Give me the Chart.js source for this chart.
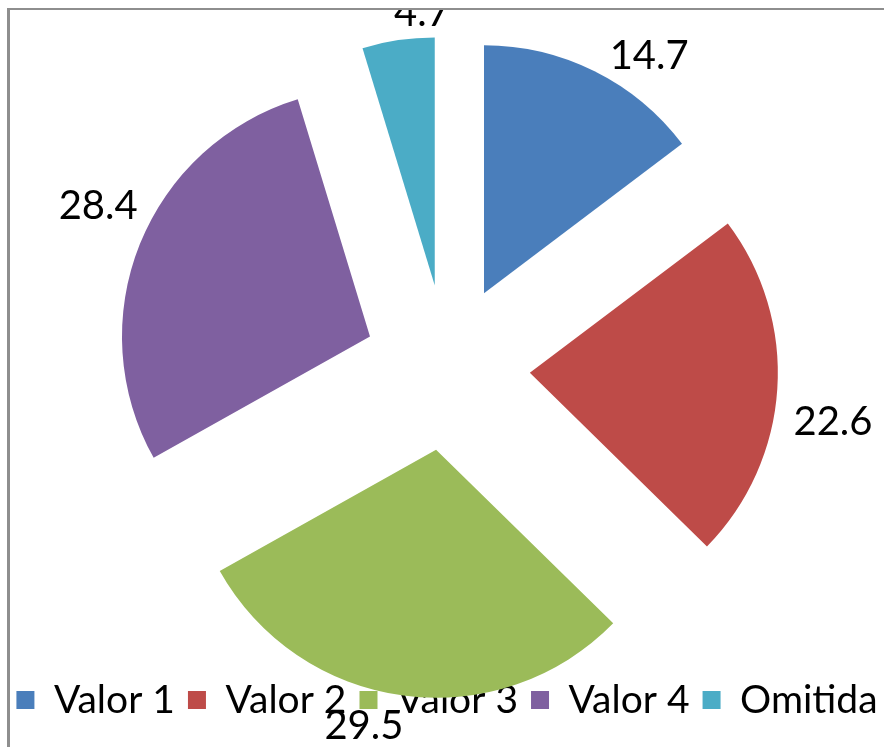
<!DOCTYPE html>
<html>
<head>
<meta charset="utf-8">
<script src="https://cdn.jsdelivr.net/npm/chart.js@4.4.0/dist/chart.umd.min.js"></script>
<style>
  html, body { margin: 0; background: #fff; }
  #frame {
    position: absolute; left: 7px; top: 8px; width: 874px; height: 739px;
    border-top: 2px solid #8e8e8e; border-left: 3px solid #8e8e8e;
    overflow: hidden;
  }
  #chart { position: absolute; left: -10px; top: -10px; }
</style>
</head>
<body>
<div id="frame"><canvas id="chart" width="891" height="747"></canvas></div>
<script>
// datos del grafico
const labels = ['Valor 1', 'Valor 2', 'Valor 3', 'Valor 4', 'Omitida'];
const values = [14.7, 22.6, 29.5, 28.4, 4.7];
const colors = ['#4a7ebb', '#be4b48', '#9bbb59', '#7f60a0', '#4bacc6'];

const EXPLODE = 83;                 // separacion de cada porcion (px)
const LABEL_GAP = 20;
const LABEL_TURN = 6 * Math.PI / 180;
const LABEL_MIN_Y = 12;             // la etiqueta no sube mas que esto (queda medio cortada)

// desplaza cada porcion hacia afuera solo mientras se dibuja
const explodePlugin = {
    id: 'explode',
    beforeDatasetDraw(chart, args) {
        args.meta.data.forEach(arc => {
            const mid = (arc.startAngle + arc.endAngle) / 2;
            arc.x += Math.cos(mid) * EXPLODE;
            arc.y += Math.sin(mid) * EXPLODE;
        });
    },
    afterDatasetDraw(chart, args) {
        args.meta.data.forEach(arc => {
            const mid = (arc.startAngle + arc.endAngle) / 2;
            arc.x -= Math.cos(mid) * EXPLODE;
            arc.y -= Math.sin(mid) * EXPLODE;
        });
    }
};

// etiquetas de valor fuera de cada porcion
const labelPlugin = {
    id: 'sliceLabels',
    afterDraw(chart) {
        const ctx = chart.ctx;
        const meta = chart.getDatasetMeta(0);
        ctx.save();
        ctx.font = '40px Lato';
        ctx.fillStyle = '#000';
        ctx.textAlign = 'center';
        ctx.textBaseline = 'alphabetic';
        const capH = 0.72 * 40;
        meta.data.forEach((arc, i) => {
            const mid = (arc.startAngle + arc.endAngle) / 2;
            const ang = mid + LABEL_TURN;
            const cx = arc.x + Math.cos(mid) * EXPLODE;
            const cy = arc.y + Math.sin(mid) * EXPLODE;
            const text = values[i].toFixed(1);
            const w = ctx.measureText(text).width;
            const d = arc.outerRadius + LABEL_GAP;
            const x = cx + Math.cos(ang) * (d + w / 2);
            const y = Math.max(cy + Math.sin(ang) * (d + capH / 2), LABEL_MIN_Y);
            ctx.fillText(text, x, y + capH / 2);
        });
        ctx.restore();
    }
};

new Chart(document.getElementById('chart'), {
    type: 'pie',
    data: {
        labels: labels,
        datasets: [{
            data: values,
            backgroundColor: colors,
            borderColor: '#fff',
            borderWidth: 0,
            radius: 248,
            clip: false
        }]
    },
    options: {
        responsive: false,
        animation: false,
        events: [],
        layout: { padding: { left: 3, right: 0, top: 67.5, bottom: 17.5 } },
        plugins: {
            tooltip: { enabled: false },
            legend: {
                position: 'bottom',
                z: 1,
                labels: {
                    color: '#000',
                    font: { family: 'Lato', size: 39 },
                    boxWidth: 18,
                    boxHeight: 18,
                    padding: 13
                }
            }
        }
    },
    plugins: [explodePlugin, labelPlugin]
});
</script>
</body>
</html>
